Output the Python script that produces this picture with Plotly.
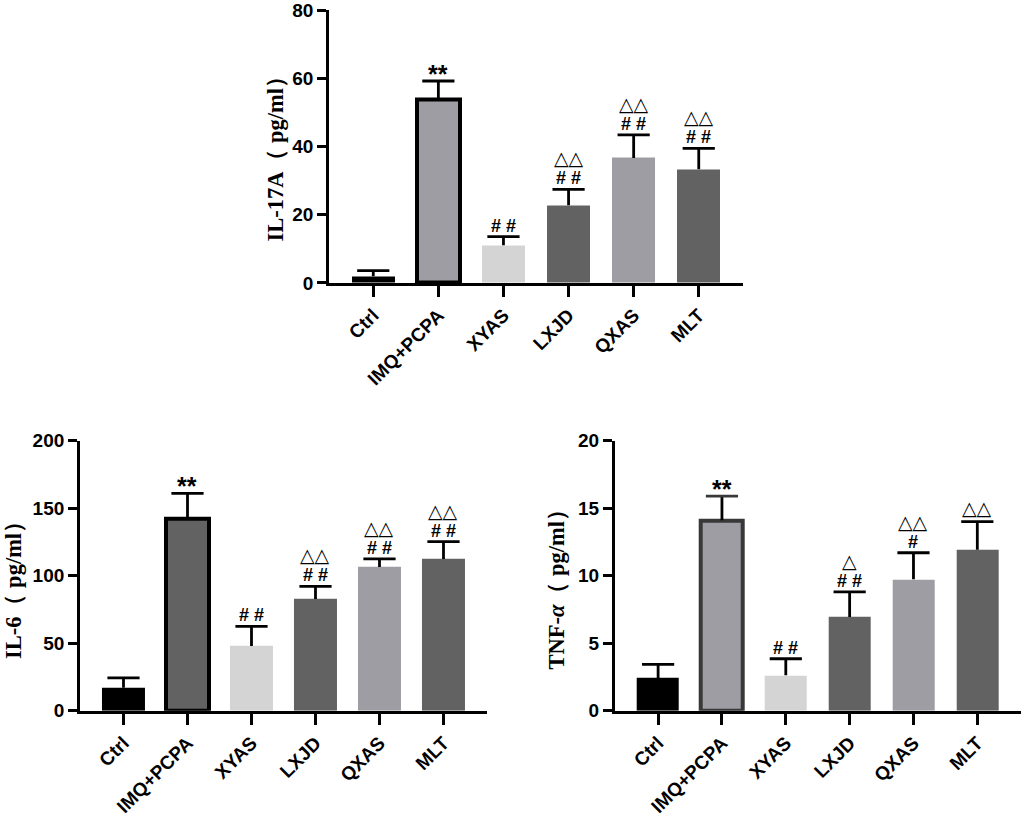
import plotly.graph_objects as go

# groups and readings (pg/ml), mean and mean+SD
groups = ["Ctrl", "IMQ+PCPA", "XYAS", "LXJD", "QXAS", "MLT"]

il17a_mean = [2.0, 53.8, 11.1, 22.8, 36.7, 33.4]
il17a_top = [3.6, 59.3, 13.6, 27.5, 43.5, 39.5]

il6_mean = [17.0, 142.2, 47.9, 82.7, 106.4, 112.4]
il6_top = [24.4, 161.0, 62.5, 92.1, 112.4, 125.2]

tnf_mean = [2.42, 14.1, 2.62, 6.94, 9.73, 11.93]
tnf_top = [3.44, 15.9, 3.85, 8.81, 11.7, 14.0]

# significance marks per group: (lower mark, upper mark)
il17a_marks = [("", ""), ("**", ""), ("# #", ""), ("# #", "△△"), ("# #", "△△"), ("# #", "△△")]
il6_marks = [("", ""), ("**", ""), ("# #", ""), ("# #", "△△"), ("# #", "△△"), ("# #", "△△")]
tnf_marks = [("", ""), ("**", ""), ("# #", ""), ("# #", "△"), ("#", "△△"), ("", "△△")]

BLACK = "#000000"
MID = "#9e9da4"
LIGHT = "#d4d4d4"
DARK = "#626262"

panels = [
    dict(mean=il17a_mean, top=il17a_top, marks=il17a_marks,
         colors=[BLACK, MID, LIGHT, DARK, MID, DARK], edge=BLACK,
         yrange=[0, 80], dtick=20, title="IL-17A（ pg/ml）",
         xdom=[0.3213, 0.7256], ydom=[0.6545, 0.9872], tpos=(0.2686, 0.8126)),
    dict(mean=il6_mean, top=il6_top, marks=il6_marks,
         colors=[BLACK, DARK, LIGHT, DARK, MID, DARK], edge=BLACK,
         yrange=[0, 200], dtick=50, title="IL-6（ pg/ml）",
         xdom=[0.0781, 0.4756], ydom=[0.1322, 0.4619], tpos=(0.0127, 0.2857)),
    dict(mean=tnf_mean, top=tnf_top, marks=tnf_marks,
         colors=[BLACK, MID, LIGHT, DARK, MID, DARK], edge="#383838",
         yrange=[0, 20], dtick=5, title="TNF-<i>α</i>（ pg/ml）",
         xdom=[0.6003, 0.9968], ydom=[0.1322, 0.4619], tpos=(0.5436, 0.287)),
]

fig = go.Figure()
ytick_font = dict(family="Liberation Sans, Arial", size=19, color="black", weight="bold")
xtick_font = dict(family="Liberation Sans, Arial", size=19, color="black", weight="bold")

for i, p in enumerate(panels):
    n = "" if i == 0 else str(i + 1)
    widths = [4 if g == "IMQ+PCPA" else 0 for g in groups]
    lines = [p["edge"] if g == "IMQ+PCPA" else c for g, c in zip(groups, p["colors"])]
    err_col = [p["edge"] if g == "IMQ+PCPA" else "black" for g in groups]
    fig.add_trace(go.Bar(
        x=groups, y=p["mean"], width=0.66,
        marker=dict(color=p["colors"], line=dict(color=lines, width=widths)),
        error_y=dict(type="data", symmetric=False,
                     array=[t - m for t, m in zip(p["top"], p["mean"])],
                     arrayminus=[0] * len(groups),
                     color="black", thickness=2.8, width=0),
        xaxis="x" + n, yaxis="y" + n, showlegend=False,
    ))
    # error bar caps
    fig.add_trace(go.Scatter(
        x=groups, y=p["top"], mode="markers",
        marker=dict(symbol="line-ew", size=23, line=dict(color=err_col, width=2.8)),
        xaxis="x" + n, yaxis="y" + n, showlegend=False, hoverinfo="skip",
    ))
    fig.update_layout({
        "xaxis" + n: dict(domain=p["xdom"], anchor="y" + n, range=[-0.68, 5.68],
                          automargin=False, ticklabeloverflow="allow",
                          showline=True, linecolor="black", linewidth=2.7,
                          ticks="outside", ticklen=11, tickwidth=2.7, tickcolor="black",
                          tickangle=-45, tickfont=xtick_font, showgrid=False),
        "yaxis" + n: dict(domain=p["ydom"], anchor="x" + n, range=p["yrange"],
                          automargin=False, ticklabeloverflow="allow",
                          dtick=p["dtick"], showline=True, linecolor="black", linewidth=2.7,
                          ticks="outside", ticklen=9, tickwidth=2.7, tickcolor="black",
                          tickfont=ytick_font, showgrid=False, zeroline=False),
    })
    for g, t, (low, high) in zip(groups, p["top"], p["marks"]):
        if low:
            big = low == "**"
            fig.add_annotation(
                x=g, y=t, xref="x" + n, yref="y" + n, text=low, showarrow=False,
                yanchor="bottom", yshift=-9 if big else -1,
                font=dict(family="Liberation Sans, Arial", size=25 if big else 18,
                          color="black", weight="bold"))
        if high:
            fig.add_annotation(
                x=g, y=t, xref="x" + n, yref="y" + n, text=high, showarrow=False,
                yanchor="bottom", yshift=18 if low else 1,
                font=dict(family="DejaVu Sans", size=19, color="black"))
    fig.add_annotation(
        x=p["tpos"][0], y=p["tpos"][1], xref="paper", yref="paper", text=p["title"],
        textangle=-90, showarrow=False, xanchor="center", yanchor="middle",
        font=dict(family="Liberation Serif, Times New Roman", size=22.5, color="black",
                  weight="bold"))

fig.update_layout(width=1024, height=819, margin=dict(l=0, r=0, t=0, b=0),
                  paper_bgcolor="white", plot_bgcolor="white", bargap=0)

# page body margin off so the 1024x819 figure fills the window
fig.write_html("out.html", config={"displayModeBar": False},
               post_script="document.body.style.margin='0px';")
